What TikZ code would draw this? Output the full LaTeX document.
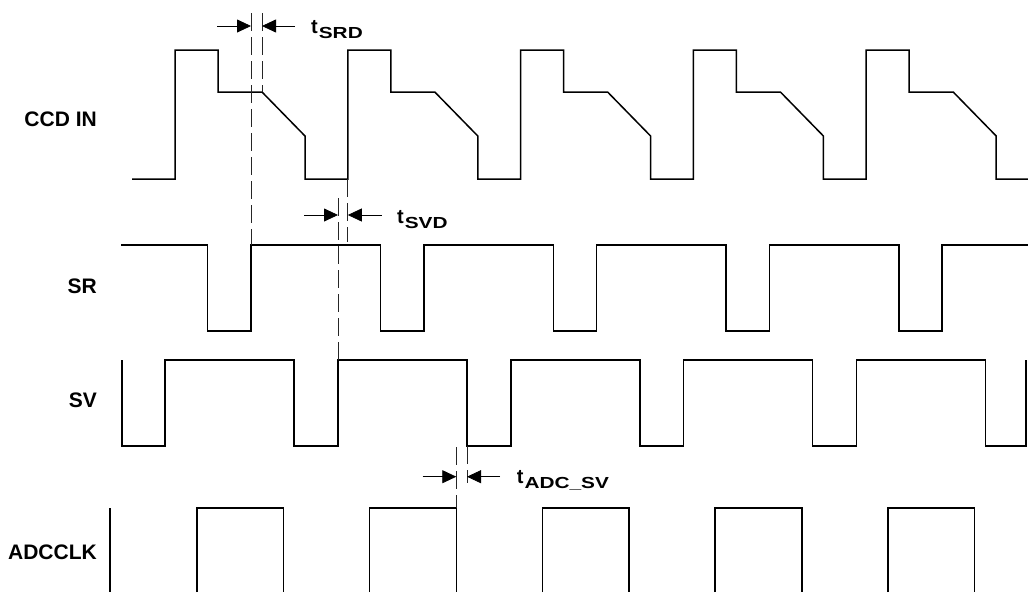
\documentclass[tikz,border=0pt]{standalone}
\usepackage{fontspec}
\setmainfont{Liberation Sans}
\usepackage{graphicx}
\usepackage{tikz}
\usetikzlibrary{arrows.meta}
\tikzstyle{signal} = [line width=1.5pt, line join=miter, black]
\tikzstyle{guide} = [line width=0.9pt, dash pattern=on 18pt off 6pt, black!85]
\tikzstyle{arrow} = [line width=0.8pt, -{Triangle[length=14pt,width=13pt]}]
\tikzstyle{signame} = [font=\fontsize{21}{21}\selectfont\bfseries, anchor=east, inner sep=0pt]
\tikzstyle{delayname} = [font=\bfseries, anchor=base west, inner sep=0pt]
\newcommand{\tdelay}[1]{{\fontsize{20}{20}\selectfont t}\hspace{1pt}\raisebox{-5pt}{\scalebox{1.3}[1]{\fontsize{16}{16}\selectfont #1}}}

\begin{document}
\begin{tikzpicture}[x=1pt, y=-1pt]
  \useasboundingbox (0,0) rectangle (1028,592);
  % signal names
  \node (ccdin) [signame] at (97,119) {CCD IN};
  \node (sr) [signame] at (97,286.5) {SR};
  \node (sv) [signame] at (97,400) {SV};
  \node (adcclk) [signame] at (97,552.5) {ADCCLK};
  % waveforms
  \draw[signal] (132,179) foreach \r in {175,347.8,520.6,693.4,866.2}
    { -- (\r,179) -- (\r,50) -- (\r+43,50) -- (\r+43,92) -- (\r+87,92) -- (\r+130,136) -- (\r+130,179) }
    -- (1028,179);
  \draw[signal] (121,245) foreach \f in {207.7,380.5,553.3,726.1,898.9}
    { -- (\f,245) -- (\f,331) -- (\f+43.3,331) -- (\f+43.3,245) } -- (1028,245);
  \draw[signal] (122,360) -- (122,446) foreach \s in {165.2,338,510.8,683.6,856.4}
    { -- (\s,446) -- (\s,360) -- (\s+129,360) -- (\s+129,446) } -- (1026,446) -- (1026,360);
  \draw[signal] (110,508) -- (110,592);
  \foreach \a in {196.8,369.6,542.4,715.2,888}
    \draw[signal] (\a,592) -- (\a,508) -- (\a+86.7,508) -- (\a+86.7,592);
  % tSRD
  \coordinate (srRise) at (251,245);
  \coordinate (srdTopA) at (251,13);
  \coordinate (ccdSlope) at (262,92);
  \coordinate (srdTopB) at (262,13);
  \coordinate (srdL) at (217,26);
  \coordinate (srdR) at (295,26);
  \draw[guide] (srdTopA) -- (srRise);
  \draw[guide] (srdTopB) -- (ccdSlope);
  \draw[arrow] (srdL) -- (srdL -| srRise);
  \draw[arrow] (srdR) -- (srdR -| ccdSlope);
  \node (tSRD) [delayname] at (311,33) {\tdelay{SRD}};
  % tSVD
  \coordinate (svRise) at (338,360);
  \coordinate (svdTop) at (338,198);
  \coordinate (ccdRise) at (347.8,179);
  \coordinate (svdBot) at (347.8,242);
  \coordinate (svdL) at (304,215);
  \coordinate (svdR) at (381.7,215);
  \draw[guide] (svdTop) -- (svRise);
  \draw[guide] (ccdRise) -- (svdBot);
  \draw[arrow] (svdL) -- (svdL -| svRise);
  \draw[arrow] (svdR) -- (svdR -| ccdRise);
  \node (tSVD) [delayname] at (397,223) {\tdelay{SVD}};
  % tADC_SV
  \coordinate (adcFall) at (456.3,508);
  \coordinate (adcTop) at (456.3,447);
  \coordinate (svFall) at (467,446);
  \coordinate (adcBot) at (467,483);
  \coordinate (adcL) at (422.7,476.7);
  \coordinate (adcR) at (500,476.7);
  \draw[guide] (adcTop) -- (adcFall);
  \draw[guide] (svFall) -- (adcBot);
  \draw[arrow] (adcL) -- (adcL -| adcFall);
  \draw[arrow] (adcR) -- (adcR -| svFall);
  \node (tADC) [delayname] at (516.7,483) {\tdelay{ADC\_SV}};
\end{tikzpicture}
\end{document}
